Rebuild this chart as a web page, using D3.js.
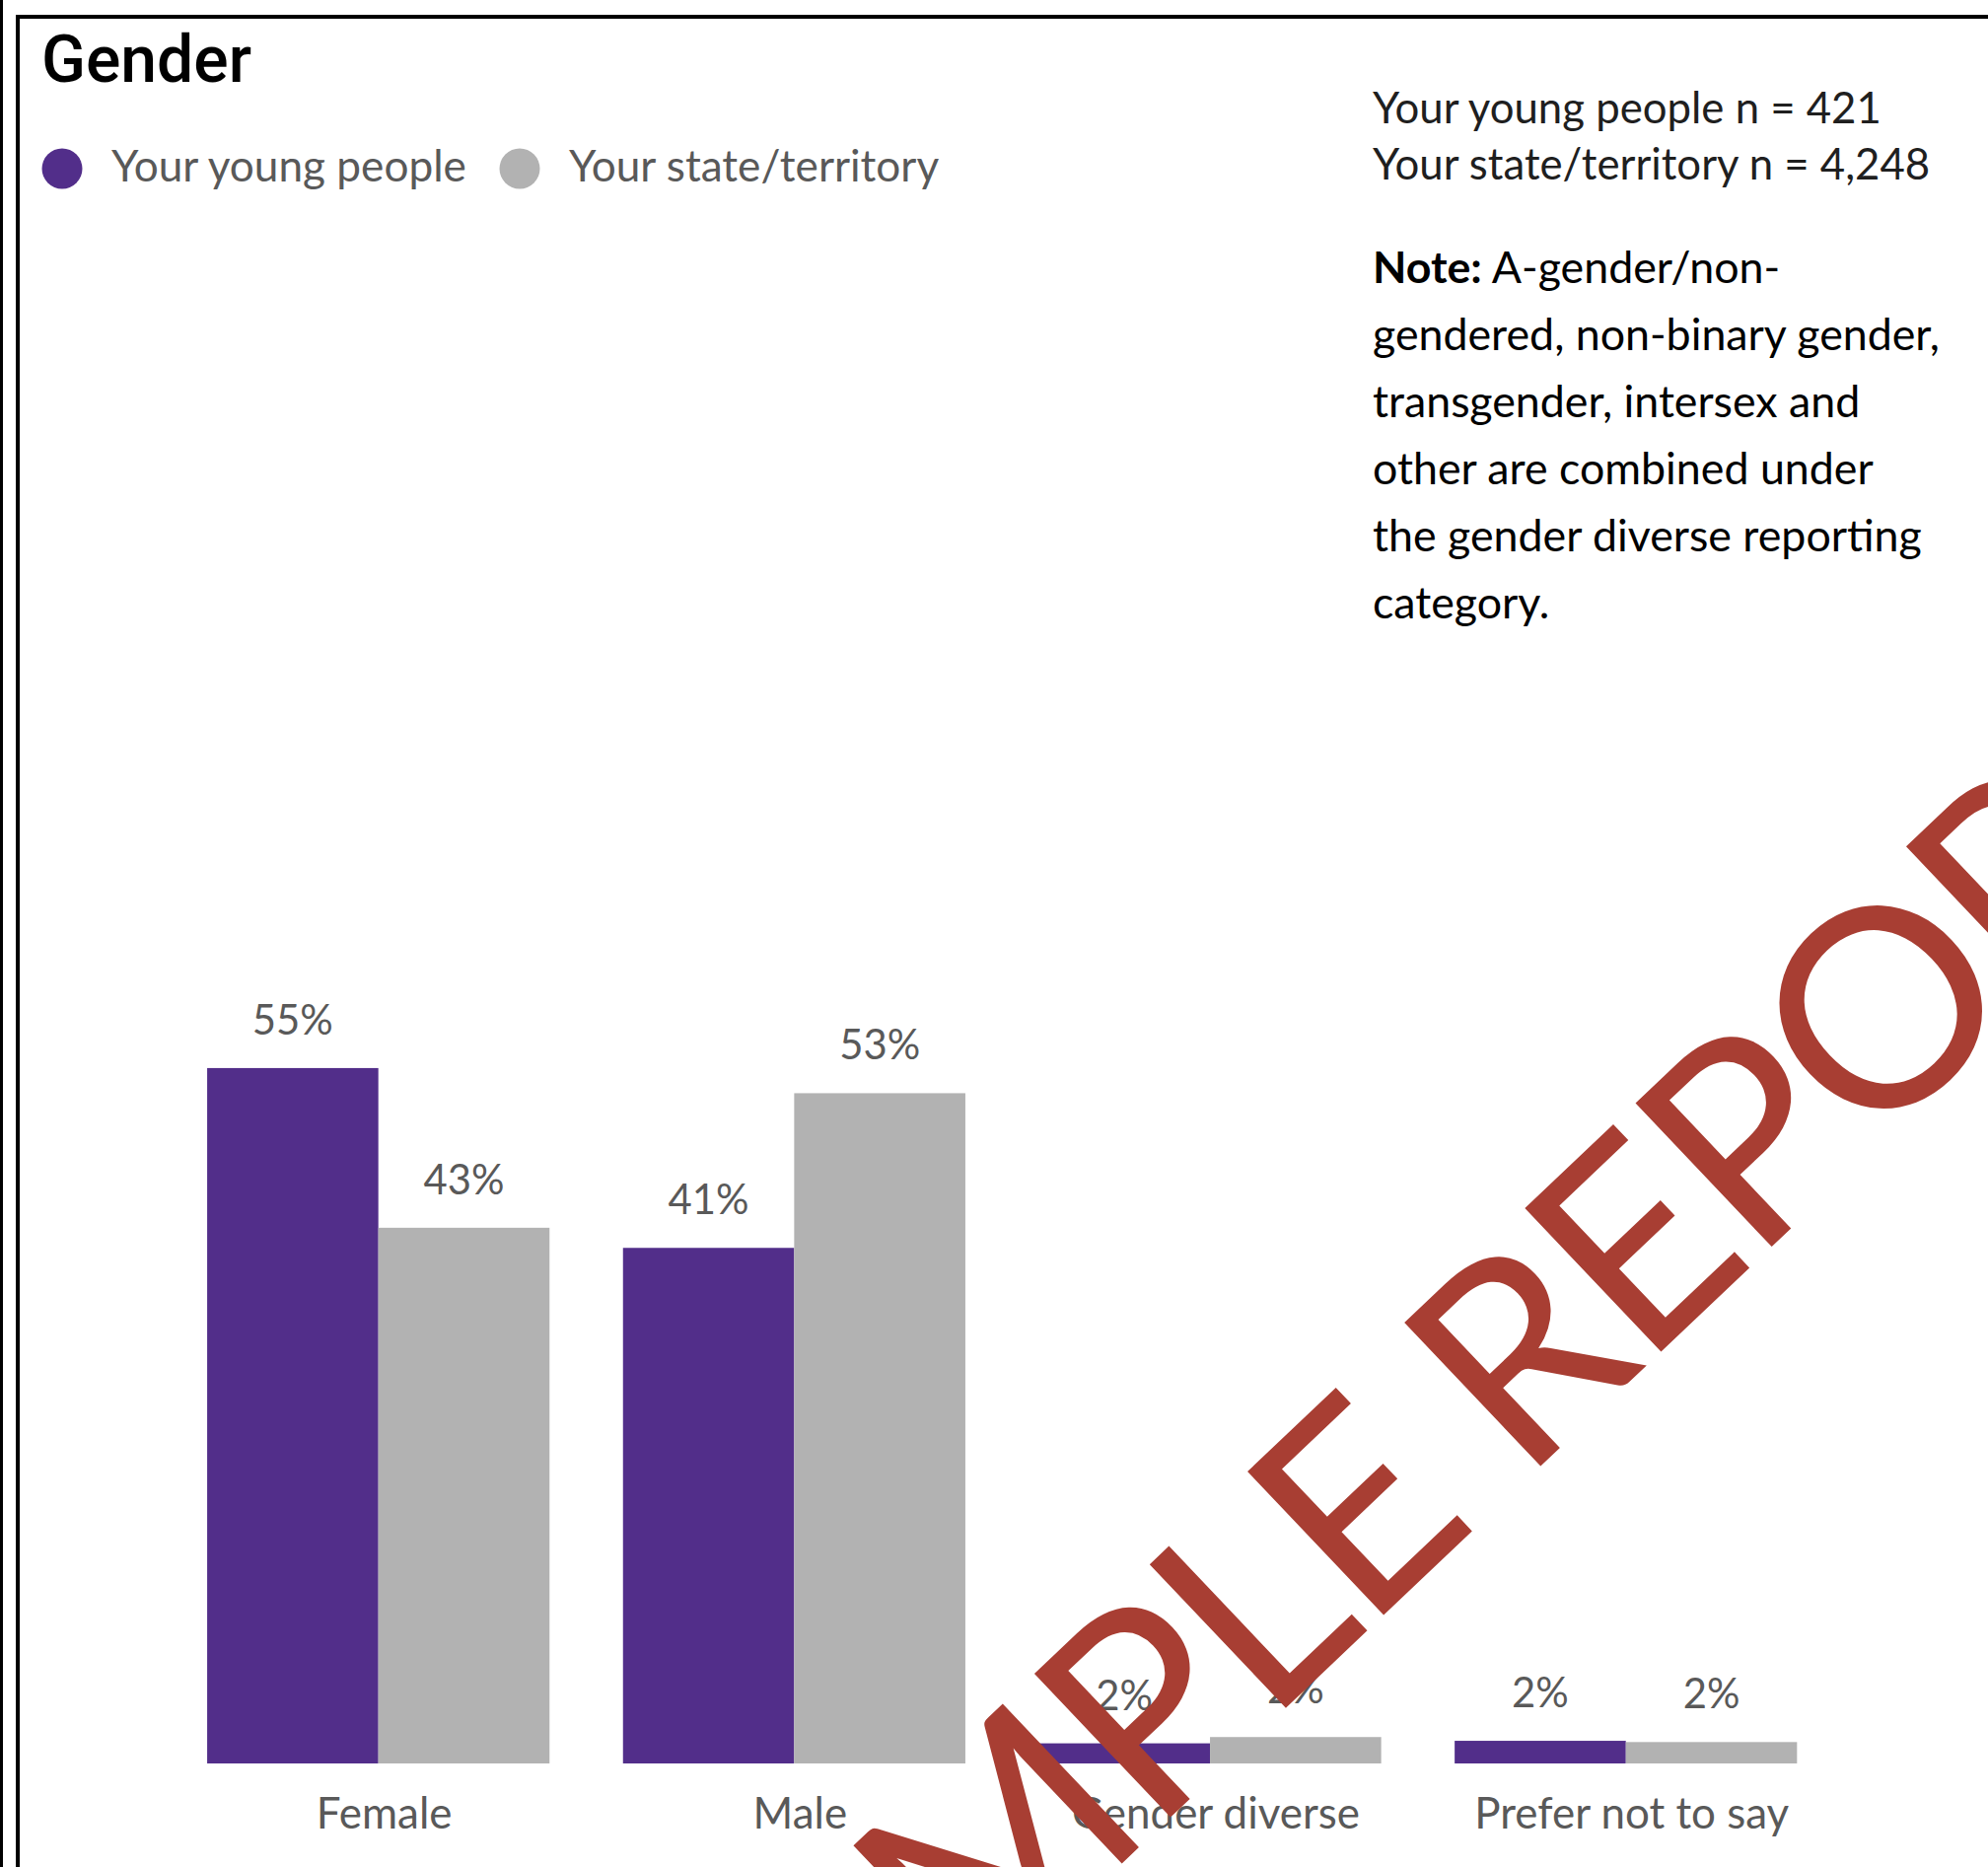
<!DOCTYPE html>
<html>
<head>
<meta charset="utf-8">
<script src="https://cdn.jsdelivr.net/npm/d3@7"></script>
<style>
  html, body { margin: 0; padding: 0; background: #ffffff; }
  svg { display: block; }
</style>
</head>
<body>
<svg id="chart" width="2016" height="1893"></svg>
<script>
// ---------------- DATA ----------------
const title = "Gender";
const categories = ["Female", "Male", "Gender diverse", "Prefer not to say"];
const seriesNames = ["Your young people", "Your state/territory"];
const youngPeople = [55.3, 41.0, 1.6, 1.8];
const stateTerritory = [42.6, 53.3, 2.1, 1.7];
const sampleSizes = ["Your young people n = 421", "Your state/territory n = 4,248"];
const noteLabel = "Note:";
const noteLines = [
  " A-gender/non-",
  "gendered, non-binary gender,",
  "transgender, intersex and",
  "other are combined under",
  "the gender diverse reporting",
  "category."
];
const watermark = "SAMPLE REPORT";

// ---------------- STYLE ----------------
const colors = ["#522E8A", "#B2B2B2"];
const labelColor = "#595959";
const font = "Lato, 'Liberation Sans', sans-serif";

const svg = d3.select("#chart");

// helper: fit a font size so text hits a target width
function fitSize(text, family, weight, target) {
  const t = svg.append("text").attr("font-family", family).attr("font-weight", weight)
    .attr("font-size", 100).text(text);
  const w = t.node().getComputedTextLength();
  t.remove();
  return 100 * target / w;
}

// frame lines
svg.append("rect").attr("x", 0).attr("y", 0).attr("width", 3).attr("height", 1893).attr("fill", "#000");
svg.append("rect").attr("x", 16).attr("y", 15).attr("width", 4).attr("height", 1878).attr("fill", "#000");
svg.append("rect").attr("x", 16).attr("y", 15).attr("width", 2000).attr("height", 4).attr("fill", "#000");

// title
const titleFont = "Roboto, 'DejaVu Sans', sans-serif";
const titleSize = fitSize(title, titleFont, 500, 213);
svg.append("text").attr("x", 42).attr("y", 83)
  .attr("font-family", titleFont).attr("font-weight", 500)
  .attr("font-size", titleSize).attr("fill", "#000").text(title);

// legend
const legSize = fitSize(seriesNames[0], font, 400, 360);
const legendX = [63, 527];
const legend = svg.append("g").selectAll("g").data(seriesNames).join("g")
  .attr("transform", (d, i) => `translate(${legendX[i]},171)`);
legend.append("circle").attr("r", 20.5).attr("fill", (d, i) => colors[i]);
legend.append("text").attr("x", 50).attr("y", 13)
  .attr("font-family", font).attr("font-size", legSize).attr("fill", labelColor)
  .text(d => d);

// sample sizes
const nSize = fitSize(sampleSizes[0], font, 400, 516);
svg.append("g").selectAll("text").data(sampleSizes).join("text")
  .attr("x", 1392).attr("y", (d, i) => 125 + i * 57)
  .attr("font-family", font).attr("font-size", nSize).attr("fill", "#1f1f1f")
  .text(d => d);

// note
const noteSize = fitSize(noteLines[1], font, 400, 575);
const note = svg.append("g").selectAll("text").data(noteLines).join("text")
  .attr("x", 1392).attr("y", (d, i) => 287 + i * 68)
  .attr("font-family", font).attr("font-size", noteSize).attr("fill", "#000")
  .attr("xml:space", "preserve");
note.each(function(d, i) {
  const t = d3.select(this);
  if (i === 0) t.append("tspan").attr("font-weight", 700).text(noteLabel);
  t.append("tspan").text(d);
});

// ---------------- BARS ----------------
const x0 = d3.scaleBand().domain(categories).range([172.8, 1859.6])
  .paddingInner(0.1767).paddingOuter(0.0884);
const x1 = d3.scaleBand().domain(seriesNames).range([0, x0.bandwidth()]).padding(0);
const y = d3.scaleLinear().domain([0, 100]).range([1788, 513]);

const rows = categories.map((c, i) => ({
  cat: c,
  vals: [
    { s: seriesNames[0], v: youngPeople[i], ci: 0 },
    { s: seriesNames[1], v: stateTerritory[i], ci: 1 }
  ]
}));

const groups = svg.append("g").selectAll("g").data(rows).join("g")
  .attr("transform", d => `translate(${x0(d.cat)},0)`);

groups.selectAll("rect").data(d => d.vals).join("rect")
  .attr("x", d => x1(d.s)).attr("width", x1.bandwidth())
  .attr("y", d => y(d.v)).attr("height", d => y(0) - y(d.v))
  .attr("fill", d => colors[d.ci]);

const valSize = fitSize("55%", font, 400, 82);
groups.selectAll("text.val").data(d => d.vals).join("text").attr("class", "val")
  .attr("x", d => x1(d.s) + x1.bandwidth() / 2).attr("y", d => y(d.v) - 34)
  .attr("text-anchor", "middle")
  .attr("font-family", font).attr("font-size", valSize).attr("fill", labelColor)
  .text(d => Math.round(d.v) + "%");

// category axis labels
const catSize = fitSize(categories[3], font, 400, 319);
const xAxis = d3.axisBottom(x0).tickSize(0).tickPadding(0);
const ax = svg.append("g").attr("transform", "translate(6,1854)").call(xAxis);
ax.select(".domain").remove();
ax.selectAll("text").attr("dy", 0).attr("font-family", font).attr("font-size", catSize)
  .attr("fill", labelColor);

// ---------------- WATERMARK ----------------
svg.append("text")
  .attr("transform", "translate(1448,1456) rotate(-43.5)")
  .attr("text-anchor", "middle").attr("dy", "0.36em")
  .attr("letter-spacing", -7)
  .attr("font-family", font).attr("font-size", 280)
  .attr("fill", "#A83E33").text(watermark);
</script>
</body>
</html>
